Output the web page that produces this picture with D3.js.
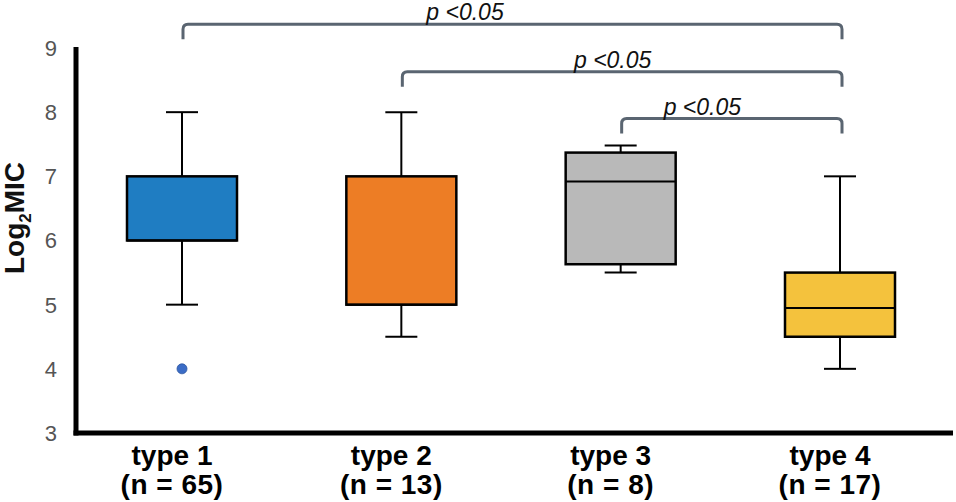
<!DOCTYPE html>
<html>
<head>
<meta charset="utf-8">
<script src="https://cdn.jsdelivr.net/npm/d3@7"></script>
<style>
  body { margin: 0; background: #fff; }
  svg { display: block; font-family: "Liberation Sans", Arial, sans-serif; }
</style>
</head>
<body>
<div id="root"></div>
<script>
var width = 956,
    height = 502;

// data
var categories = ["type 1", "type 2", "type 3", "type 4"];
var nLabels = ["(n = 65)", "(n = 13)", "(n = 8)", "(n = 17)"];
var whiskerLow = [5, 4.5, 5.5, 4];
var q1 = [6, 5, 5.63, 4.5];
var median = [6, 5, 6.92, 4.95];
var q3 = [7, 7, 7.37, 5.5];
var whiskerHigh = [8, 8, 7.48, 7];
var outliers = [[4], [], [], []];
var colors = ["#1f7dc2", "#ed7d25", "#b9b9b9", "#f4c23d"];
var yTicks = [3, 4, 5, 6, 7, 8, 9];

// significance brackets
var bracketFrom = ["type 1", "type 2", "type 3"];
var bracketTo = ["type 4", "type 4", "type 4"];
var bracketLevel = [9.37, 8.63, 7.9];
var bracketLabel = ["p <0.05", "p <0.05", "p <0.05"];

var svg = d3.select("#root")
    .append("svg")
    .attr("width", width)
    .attr("height", height);

var x = d3.scalePoint()
    .domain(categories)
    .range([182, 840]);

var y = d3.scaleLinear()
    .domain([3, 9])
    .range([433, 48]);

var boxW = 110,
    capW = 32;

// y tick labels (no tick marks in the original)
svg.append("g")
    .selectAll("text")
    .data(yTicks)
    .enter()
    .append("text")
    .attr("x", 57)
    .attr("y", function (d) { return y(d); })
    .attr("dy", "0.36em")
    .attr("text-anchor", "end")
    .style("font-size", "22px")
    .style("fill", "#555")
    .text(function (d) { return d; });

// y title
var yt = svg.append("text")
    .attr("transform", "translate(24,218) rotate(-90)")
    .attr("text-anchor", "middle")
    .style("font-size", "28px")
    .style("font-weight", "bold")
    .style("fill", "#111");
yt.append("tspan").text("Log");
yt.append("tspan").attr("dy", 7).style("font-size", "17px").text("2");
yt.append("tspan").attr("dy", -7).text("MIC");

// axes lines
svg.append("line")
    .attr("x1", 76).attr("x2", 76)
    .attr("y1", y(9) - 1).attr("y2", y(3) + 2.5)
    .style("stroke", "#000").style("stroke-width", 5);
svg.append("line")
    .attr("x1", 73.5).attr("x2", 953)
    .attr("y1", y(3)).attr("y2", y(3))
    .style("stroke", "#000").style("stroke-width", 5);

// boxes
var g = svg.selectAll(".box")
    .data(categories)
    .enter()
    .append("g")
    .attr("class", "box");

g.append("line")
    .attr("x1", function (d) { return x(d); })
    .attr("x2", function (d) { return x(d); })
    .attr("y1", function (d, i) { return y(whiskerHigh[i]); })
    .attr("y2", function (d, i) { return y(whiskerLow[i]); })
    .style("stroke", "#000").style("stroke-width", 2);

g.selectAll(".cap")
    .data(function (d, i) { return [{ c: d, v: whiskerHigh[i] }, { c: d, v: whiskerLow[i] }]; })
    .enter()
    .append("line")
    .attr("x1", function (d) { return x(d.c) - capW / 2; })
    .attr("x2", function (d) { return x(d.c) + capW / 2; })
    .attr("y1", function (d) { return y(d.v); })
    .attr("y2", function (d) { return y(d.v); })
    .style("stroke", "#000").style("stroke-width", 2);

g.append("rect")
    .attr("x", function (d) { return x(d) - boxW / 2; })
    .attr("y", function (d, i) { return y(q3[i]); })
    .attr("width", boxW)
    .attr("height", function (d, i) { return y(q1[i]) - y(q3[i]); })
    .style("fill", function (d, i) { return colors[i]; })
    .style("stroke", "#000")
    .style("stroke-width", 2.5);

g.append("line")
    .attr("x1", function (d) { return x(d) - boxW / 2; })
    .attr("x2", function (d) { return x(d) + boxW / 2; })
    .attr("y1", function (d, i) { return y(median[i]); })
    .attr("y2", function (d, i) { return y(median[i]); })
    .style("stroke", "#000").style("stroke-width", 2);

g.selectAll("circle")
    .data(function (d, i) { return outliers[i].map(function (v) { return { c: d, v: v }; }); })
    .enter()
    .append("circle")
    .attr("cx", function (d) { return x(d.c); })
    .attr("cy", function (d) { return y(d.v); })
    .attr("r", 5)
    .style("fill", "#3b6cc6")
    .style("stroke", "#2c55a0")
    .style("stroke-width", 0.8);

// category labels, sit a little left of the boxes
var labelShift = -10;
var lab = svg.selectAll(".xlab")
    .data(categories)
    .enter()
    .append("text")
    .attr("class", "xlab")
    .attr("text-anchor", "middle")
    .style("font-size", "28px")
    .style("font-weight", "bold")
    .style("fill", "#000");
lab.append("tspan")
    .attr("x", function (d) { return x(d) + labelShift; })
    .attr("y", 465)
    .text(function (d) { return d; });
lab.append("tspan")
    .attr("x", function (d) { return x(d) + labelShift; })
    .attr("y", 494)
    .style("letter-spacing", "0.5px")
    .text(function (d, i) { return nLabels[i]; });

// brackets
var drop = 15, rad = 5;
var textShift = [-46, -8, -28];
var br = svg.selectAll(".bracket")
    .data(bracketLabel)
    .enter()
    .append("g")
    .attr("class", "bracket");

br.append("path")
    .attr("d", function (d, i) {
        var x0 = x(bracketFrom[i]) + 1, x1 = x(bracketTo[i]) + 2, yy = y(bracketLevel[i]);
        var p = d3.path();
        p.moveTo(x0, yy + drop);
        p.lineTo(x0, yy + rad);
        p.quadraticCurveTo(x0, yy, x0 + rad, yy);
        p.lineTo(x1 - rad, yy);
        p.quadraticCurveTo(x1, yy, x1, yy + rad);
        p.lineTo(x1, yy + drop);
        return p.toString();
    })
    .style("fill", "none")
    .style("stroke", "#5a6571")
    .style("stroke-width", 3);

br.append("text")
    .attr("x", function (d, i) { return (x(bracketFrom[i]) + x(bracketTo[i])) / 2 + textShift[i]; })
    .attr("y", function (d, i) { return y(bracketLevel[i]) - 4; })
    .attr("text-anchor", "middle")
    .style("font-size", "23px")
    .style("font-style", "italic")
    .style("fill", "#111")
    .text(function (d) { return d; });
</script>
</body>
</html>
